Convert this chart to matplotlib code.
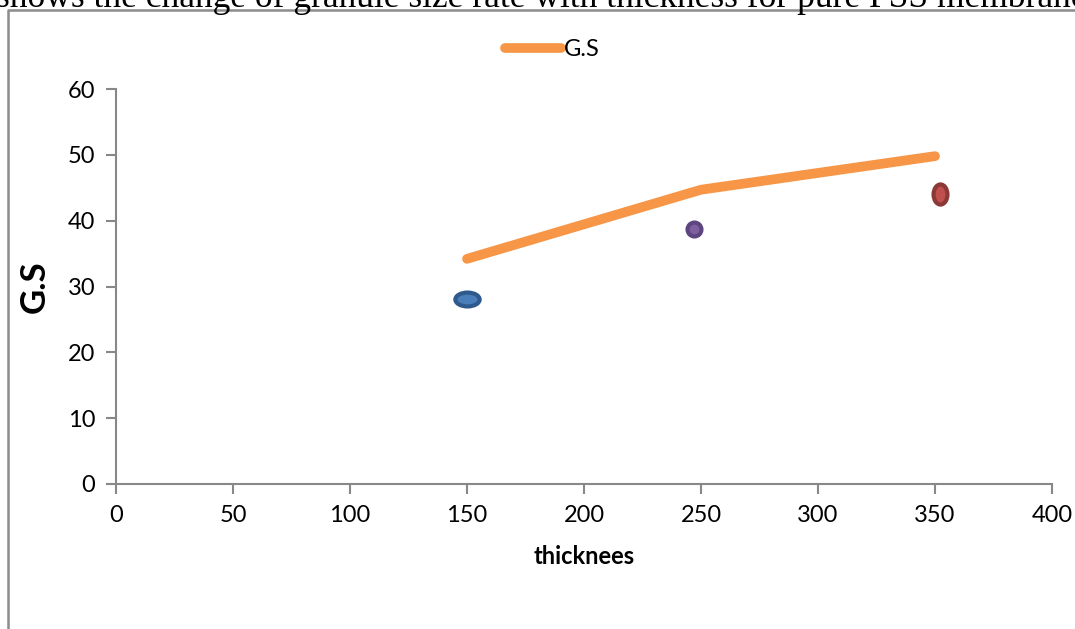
import matplotlib.pyplot as plt
from matplotlib.lines import Line2D
from matplotlib.markers import MarkerStyle
from matplotlib.transforms import Affine2D

# G.S line against thickness
thick = [150, 250, 350]
gs = [34.2, 44.7, 49.8]

# individual measured points
pt_x = [150, 247, 352]
pt_y = [28.1, 38.8, 44.1]
pt_fill = ["#4a7ebb", "#7f5fa0", "#c0504d"]
pt_edge = ["#2f5a8c", "#5d4580", "#8c3836"]
pt_shape = [(1.75, 1.0), (1.0, 1.0), (1.0, 1.45)]

plt.rcParams["font.family"] = ["Lato", "DejaVu Sans"]

fig = plt.figure(figsize=(10.75, 6.29), dpi=100)
ax = fig.add_axes([116/1075, 1-484/629, (1052-116)/1075, (484-89)/629])

ax.plot(thick, gs, color="#f79646", lw=7, solid_capstyle="round", label="G.S", zorder=3)

for x, y, fc, ec, (sx, sy) in zip(pt_x, pt_y, pt_fill, pt_edge, pt_shape):
    m = MarkerStyle("o", transform=Affine2D().scale(sx, sy))
    ax.plot(x, y, marker=m, ms=10, mfc=fc, mec=ec, mew=3, ls="none", zorder=4)

ax.set_xlim(0, 400)
ax.set_ylim(0, 60)
ax.set_xticks(range(0, 401, 50))
ax.set_yticks(range(0, 61, 10))
for s in ["top", "right"]:
    ax.spines[s].set_visible(False)
for s in ["left", "bottom"]:
    ax.spines[s].set_color("#888888")
    ax.spines[s].set_linewidth(1.5)
ax.tick_params(colors="#888888", labelcolor="black", labelsize=17, length=7, width=1.5, pad=8)

ax.set_xlabel("thicknees", fontsize=17, fontweight="bold", labelpad=14)
ax.set_ylabel("G.S", fontsize=25, fontweight="bold", labelpad=12)

ax.legend(loc="center", bbox_to_anchor=(552/1075, 1-50/629), bbox_transform=fig.transFigure,
          frameon=False, fontsize=17, handlelength=2.4, handletextpad=0.1)

# outer frame of the chart area
fig.add_artist(Line2D([8/1075, 8/1075, 1.0], [0, 1-10/629, 1-10/629],
                      transform=fig.transFigure, color="#8c8c8c", lw=1.8))

fig.text(-0.004, 1-7/629, "shows the change of granule size rate with thickness for pure PSS membrane",
         family="Liberation Serif", fontsize=25.5, va="baseline", ha="left")

fig.savefig("out.png", dpi=100)
